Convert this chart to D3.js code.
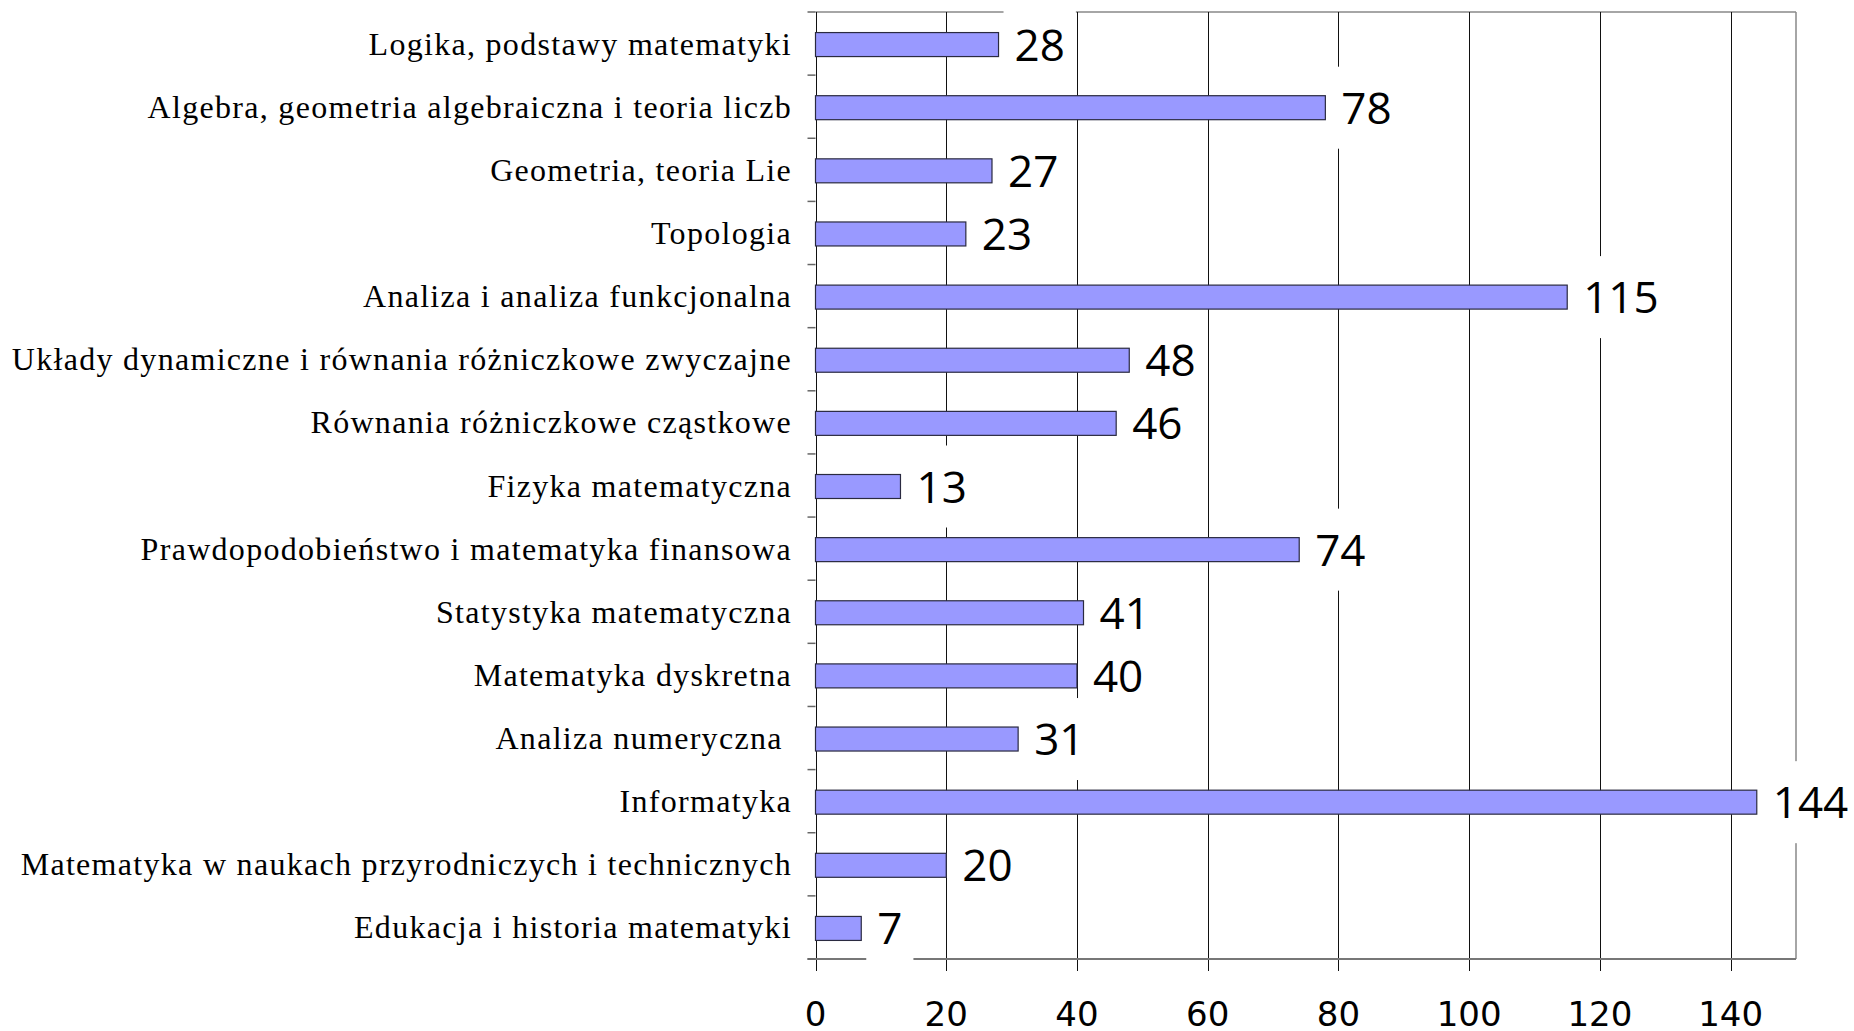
<!DOCTYPE html>
<html>
<head>
<meta charset="utf-8">
<script src="https://cdn.jsdelivr.net/npm/d3@7"></script>
<style>
  body { margin: 0; background: #fff; }
  svg { display: block; }
</style>
</head>
<body>
<div id="chart-area"></div>
<script>
/*
*    main.js
*/

var categories = [
    "Logika, podstawy matematyki",
    "Algebra, geometria algebraiczna i teoria liczb",
    "Geometria, teoria Lie",
    "Topologia",
    "Analiza i analiza funkcjonalna",
    "Układy dynamiczne i równania różniczkowe zwyczajne",
    "Równania różniczkowe cząstkowe",
    "Fizyka matematyczna",
    "Prawdopodobieństwo i matematyka finansowa",
    "Statystyka matematyczna",
    "Matematyka dyskretna",
    "Analiza numeryczna ",
    "Informatyka",
    "Matematyka w naukach przyrodniczych i technicznych",
    "Edukacja i historia matematyki"
];
var counts = [28, 78, 27, 23, 115, 48, 46, 13, 74, 41, 40, 31, 144, 20, 7];
var tickValues = [0, 20, 40, 60, 80, 100, 120, 140];

var data = categories.map((c, i) => { return { name: c, value: counts[i] }; });

var W = 1854, H = 1031;
var plotLeft = 815.5, plotRight = 1796, plotTop = 12, plotBottom = 959;

var svg = d3.select("#chart-area").append("svg")
    .attr("width", W)
    .attr("height", H);

var x = d3.scaleLinear()
    .domain([0, 150])
    .range([plotLeft, plotRight]);

var y = d3.scaleBand()
    .domain(categories)
    .range([plotTop, plotBottom]);

var barH = y.bandwidth() * 0.38;

// frame (top / right) in gray
svg.append("line")
    .attr("x1", plotLeft).attr("x2", plotRight)
    .attr("y1", plotTop).attr("y2", plotTop)
    .attr("stroke", "#888").attr("stroke-width", 1.5);
svg.append("line")
    .attr("x1", plotRight).attr("x2", plotRight)
    .attr("y1", plotTop).attr("y2", plotBottom)
    .attr("stroke", "#888").attr("stroke-width", 1.5);

// vertical grid lines, running down as ticks
svg.append("g").selectAll("line")
    .data(tickValues)
    .enter().append("line")
    .attr("x1", (d) => Math.round(x(d)) + 0.5).attr("x2", (d) => Math.round(x(d)) + 0.5)
    .attr("y1", plotTop).attr("y2", plotBottom + 12)
    .attr("stroke", "#111")
    .attr("stroke-width", 1);

// bottom axis line
svg.append("line")
    .attr("x1", plotLeft - 8).attr("x2", plotRight)
    .attr("y1", plotBottom).attr("y2", plotBottom)
    .attr("stroke", "#777").attr("stroke-width", 2);

// category boundary ticks on the left
var bounds = categories.map((c) => y(c)).concat([plotBottom]);
svg.append("g").selectAll("line")
    .data(bounds)
    .enter().append("line")
    .attr("x1", plotLeft - 8).attr("x2", plotLeft)
    .attr("y1", (d) => d).attr("y2", (d) => d)
    .attr("stroke", "#666").attr("stroke-width", 1.5);

// tick labels
svg.append("g").selectAll("text")
    .data(tickValues)
    .enter().append("text")
    .attr("x", (d) => x(d))
    .attr("y", plotBottom + 67)
    .attr("text-anchor", "middle")
    .attr("font-family", "DejaVu Sans")
    .attr("font-size", "34px")
    .attr("fill", "#000")
    .text((d) => d);

// category labels
svg.append("g").selectAll("text")
    .data(data)
    .enter().append("text")
    .attr("x", 792)
    .attr("y", (d) => y(d.name) + y.bandwidth() / 2 + 11)
    .attr("text-anchor", "end")
    .attr("font-family", "Liberation Serif")
    .attr("font-size", "32px")
    .attr("letter-spacing", "1.3px")
    .style("white-space", "pre")
    .attr("fill", "#000")
    .text((d) => d.name);

// bars
svg.append("g").selectAll("rect")
    .data(data)
    .enter().append("rect")
    .attr("x", x(0))
    .attr("y", (d) => y(d.name) + (y.bandwidth() - barH) / 2 + 1)
    .attr("width", (d) => x(d.value) - x(0))
    .attr("height", barH)
    .attr("fill", "#9999ff")
    .attr("stroke", "#2a2a40")
    .attr("stroke-width", 1.2);

// value labels with white background boxes
var lab = svg.append("g").selectAll("g")
    .data(data)
    .enter().append("g");

lab.append("text")
    .attr("x", (d) => x(d.value) + 16)
    .attr("y", (d) => y(d.name) + y.bandwidth() / 2 + 17)
    .attr("font-family", "Open Sans")
    .attr("font-size", "44px")
    .attr("fill", "#000")
    .text((d) => d.value);

lab.each(function(d) {
    var t = d3.select(this).select("text");
    var bb = t.node().getBBox();
    var cy = y(d.name) + y.bandwidth() / 2 + 1;
    d3.select(this).insert("rect", "text")
        .attr("x", x(d.value) + 5)
        .attr("y", cy - 41)
        .attr("width", bb.width + 22)
        .attr("height", 82)
        .attr("fill", "#fff");
});
</script>
</body>
</html>
